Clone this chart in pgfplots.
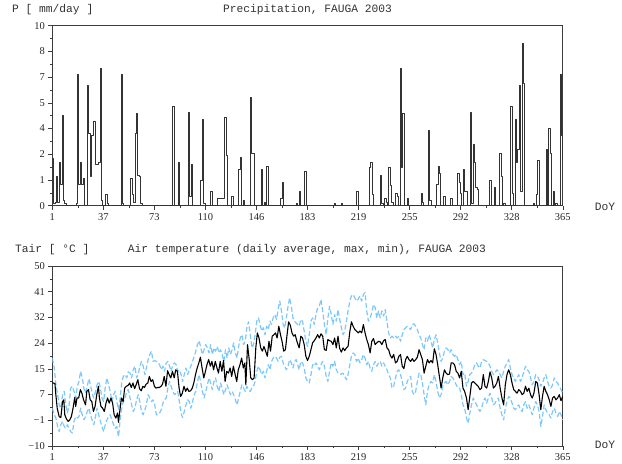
\documentclass[border=0pt]{standalone}
\usepackage{fontspec}
\setmainfont{Liberation Serif}
\newfontfamily\mono{Liberation Mono}
\usepackage{pgfplots}
\pgfplotsset{compat=1.18}

\definecolor{skyb}{RGB}{125,200,250}
\definecolor{frame}{RGB}{60,60,60}

\pgfplotsset{
  fauga/.style={
    scale only axis,
    width=510.5bp, height=180bp,
    anchor=south west,
    xmin=1, xmax=365,
    xtick={1,37.4,73.8,110.2,146.6,183,219.4,255.8,292.2,328.6,365},
    xticklabels={1,37,73,110,146,183,219,255,292,328,365},
    minor x tick num=1, minor y tick num=1,
    xtick pos=left, ytick pos=left,
    tick align=outside,
    major tick length=4bp, minor tick length=2.5bp,
    tick style={frame, line width=0.6pt},
    axis line style={frame, line width=0.8pt},
    ticklabel style={font=\fontsize{10.5}{12}\selectfont, text=black!85},
    every axis plot/.append style={line join=round},
  },
  tdash/.style={skyb, line width=1.2pt, dash pattern=on 5bp off 2.5bp},
}

\begin{document}
\begin{tikzpicture}[x=1bp,y=1bp]
\path[use as bounding box] (0,0) rectangle (622,464);

% precipitation
\begin{axis}[fauga, at={(52.3bp,258.3bp)},
  ymin=0, ymax=10,
  ytick={0,1.428571,2.857143,4.285714,5.714286,7.142857,8.571429,10},
  yticklabels={0,1,2,4,5,7,8,10}]
\addplot[const plot, black!80, line width=0.95pt] coordinates {
(1,2.6)(2,0.1)(3,0.2)(4,1.6)(5,0.2)(6,2.4)(7,1.2)(8,5.0)(9,0.3)(10,0.1)(11,0)
(18,0.1)(19,7.3)(20,1.2)(21,2.4)(22,1.2)(23,1.5)(24,0)
(26,6.7)(27,4.0)(28,1.6)(29,3.9)(30,4.7)(31,4.7)(32,2.3)(33,2.3)(34,2.4)(35,7.6)(36,0.3)(37,0)
(39,0.6)(40,0.1)(41,0)
(50,7.3)(51,0.1)(52,0)
(57,1.5)(58,0.6)(59,0.2)(60,4.0)(61,5.1)(62,1.7)(63,1.6)(64,0.1)(65,0)
(87,5.5)(88,0)
(91,2.4)(92,0)
(98,5.2)(99,0.5)(100,2.3)(101,0)
(107,1.4)(108,4.8)(109,0.1)(110,0)
(114,0.8)(115,0)
(119,0.4)(120,0.4)(121,0.4)(122,0.4)(123,0.4)(124,4.9)(125,2.8)(126,0)
(129,0.5)(130,0)
(134,2.0)(135,2.7)(136,0)(137,0.3)(138,0)
(142,6.0)(143,2.9)(144,2.9)(145,0)
(150,2.0)(151,0)(152,0.2)(153,0)(154,2.2)(155,0)
(164,0.4)(165,1.3)(166,0)
(175,0.1)(176,0)(177,0.8)(178,0)
(181,1.9)(182,0)
(202,0.1)(203,0)(207,0.1)(208,0)
(218,0.8)(219,0)
(227,2.1)(228,2.4)(229,0.6)(230,0)
(235,1.7)(236,0.1)(237,0)(238,0.4)(239,0.2)(240,0)(241,2.1)(242,1.1)(243,0.2)(244,0)
(246,0.7)(247,0.5)(248,0)(249,7.6)(250,2.1)(251,5.1)(252,0)
(254,0.4)(255,0)
(264,0.7)(265,0.2)(266,0)
(269,4.2)(270,0.3)(271,0)
(275,1.2)(276,2.2)(277,1.8)(278,0)
(280,0.5)(281,0)
(285,0.4)(286,0)
(290,1.8)(291,1.3)(292,0.7)(293,0)(294,2.0)(295,0.8)(296,0.8)(297,0)
(299,5.2)(300,0.1)(301,3.4)(302,2.4)(303,1.0)(304,0.9)(305,0)
(313,1.4)(314,0)(316,1.0)(317,0)
(320,2.9)(321,1.6)(322,0)(323,0.1)(324,0)
(328,5.5)(329,0.7)(330,0)(331,4.8)(332,2.4)(333,3.1)(334,6.7)(335,0.8)(336,9.0)(337,6.8)(338,0)
(344,0.1)(345,0)(346,0.6)(347,2.5)(348,0)
(353,3.1)(354,0)(355,4.3)(356,2.9)(357,0)(358,0.8)(359,0)(360,0.1)(361,0)
(363,7.3)(364,3.9)(365,2.5)
};
\end{axis}

% air temperature
\begin{axis}[fauga, at={(52.3bp,18bp)},
  ymin=-10, ymax=50,
  ytick={-10,-1.428571,7.142857,15.714286,24.285714,32.857143,41.428571,50},
  yticklabels={−10,−1,7,15,24,32,41,50}]
% max
\addplot[tdash] coordinates {
(1,19.3)(2.4,16.0)(3.6,10.4)(4.8,7.1)(5.9,3.7)(7.1,2.6)(8.3,7.1)(9.5,8.2)(10.6,3.7)(11.8,1.0)(13,3.7)(14.1,9.3)(15.3,9.9)(16.5,8.2)(17.7,6.0)(18.8,9.9)(20,11.5)(21.2,14.9)(22.4,12.7)(23.5,9.3)(24.7,7.6)(25.9,9.9)(27.1,12.4)(28.2,10.4)(29.4,7.6)(30.6,6.0)(31.8,8.2)(32.9,10.4)(34.1,11.5)(35.3,9.3)(36.4,6.0)(37.6,4.8)(38.8,9.9)(40,12.7)(41.1,10.4)(42.3,8.2)(43.5,4.8)(44.7,7.1)(45.8,8.2)(47,4.8)(48.2,2.1)(49.4,6.0)(50.5,11.5)(51.7,13.2)(52.9,13.8)(54.1,12.7)(55.2,14.7)(56.4,14.3)(57.6,12.7)(58.7,15.4)(59.9,16.6)(61.1,12.7)(62.3,13.8)(63.4,16.6)(64.6,18.2)(65.8,16.6)(67,13.8)(68.1,16.0)(69.3,18.8)(70.5,20.5)(71.7,21.6)(72.8,18.2)(74,18.5)(75.2,18.2)(76.4,17.7)(77.5,17.1)(78.7,15.4)(79.9,16.6)(81,14.9)(82.2,17.7)(83.4,18.2)(84.6,16.6)(85.7,14.9)(86.9,17.1)(88.1,17.7)(89.3,17.1)(90.4,14.9)(91.6,15.4)(92.8,13.8)(93.9,11.5)(95.1,13.8)(96.3,16.0)(97.5,13.8)(98.7,15.4)(99.8,16.6)(101,18.2)(102.2,19.9)(103.3,21.6)(104.5,23.8)(105.7,25.1)(106.9,22.7)(108,20.5)(109.2,22.1)(110.4,23.8)(111.6,22.7)(112.7,21.0)(113.9,23.8)(115.1,20.5)(116.3,22.7)(117.4,21.6)(118.6,23.2)(119.8,21.0)(120.9,22.1)(122.1,20.5)(123.3,18.2)(124.5,22.1)(125.6,19.3)(126.8,22.7)(128,20.5)(129.2,22.1)(130.3,24.4)(131.5,21.0)(132.7,19.3)(133.9,23.2)(135,26.0)(136.2,27.1)(137.4,23.8)(138.6,24.9)(139.7,29.4)(140.9,31.4)(142.1,27.1)(143.3,22.7)(144.4,23.8)(145.6,27.1)(146.8,31.6)(148,32.7)(149.1,30.5)(150.3,28.3)(151.5,29.4)(152.6,27.1)(153.8,29.9)(155,28.8)(156.2,31.6)(157.3,30.5)(158.5,32.7)(159.7,33.8)(160.9,32.2)(162,35.5)(163.2,38.3)(164.4,35.0)(165.6,30.5)(166.7,29.4)(167.9,32.7)(169.1,36.6)(170.2,39.4)(171.4,36.6)(172.6,32.7)(173.8,31.6)(174.9,31.0)
(177,29.9)(178.2,32.2)(179.4,31.6)(180.6,28.3)(181.8,24.9)(183,23.2)(184.2,27.1)(185.4,31.6)(186.6,32.7)(187.8,30.5)(189,33.8)(190.2,36.1)(191.4,36.6)(192.6,38.9)(193.8,35.0)(195,30.5)(196.3,27.1)(197.5,32.7)(198.7,36.6)(199.9,33.8)(201.1,30.5)(202.3,33.8)(203.5,31.6)(204.7,35.5)(205.9,32.2)(207.1,29.4)(208.3,27.1)(209.5,28.3)(210.7,31.6)(211.9,35.0)(213.1,38.3)(214.3,40.0)(215.5,40.5)(216.7,39.4)(217.9,38.3)(219.1,38.9)(220.3,40.0)(221.6,38.3)(222.8,40.5)(224,41.1)(225.2,35.0)(226.4,31.6)(227.6,32.7)(228.8,34.4)(230,37.2)(231.2,36.1)(232.4,32.7)(233.6,35.0)(234.8,32.7)(236,35.0)(237.2,33.3)(238.4,35.5)(239.6,31.6)(240.8,27.7)(242,26.0)(243.2,26.6)(244.4,26.0)(245.7,26.6)(246.9,26.0)(248.1,26.6)(249.3,24.9)(250.5,27.1)(251.7,28.8)(252.9,29.4)(254.1,29.9)(255.3,29.4)(256.5,28.8)(257.7,30.5)(258.9,30.7)(260.1,29.9)(261.3,28.8)(262.5,27.1)(263.7,26.0)(264.9,23.8)(266.1,22.1)(267.3,26.0)(268.5,24.9)(269.7,27.1)(271,24.9)(272.2,22.7)(273.4,25.5)(274.6,27.1)(275.8,24.4)(277,21.0)(278.2,18.2)(279.4,19.3)(280.6,21.6)(281.8,22.7)(283,22.1)(284.2,21.0)(285.4,22.1)(286.6,20.5)(287.8,19.9)(289,20.5)(290.2,18.8)(291.4,17.1)(292.6,18.2)(293.8,13.8)(295,14.3)(296.3,9.9)(297.5,11.5)(298.7,13.8)(299.9,14.3)(301.1,15.4)(302.3,17.1)(303.5,17.7)(304.7,16.6)(305.9,16.0)(307.1,18.2)(308.3,18.8)(309.5,18.5)(310.7,18.2)(311.9,17.7)(313.1,16.6)(314.3,14.9)(315.5,13.8)(316.7,14.3)(317.9,15.4)(319.1,14.9)(320.3,13.8)(321.6,12.7)(322.8,14.9)(324,16.6)(325.2,17.7)(326.4,18.8)(327.6,16.0)(328.8,13.8)(330,12.7)(331.2,11.5)(332.4,12.7)(333.6,13.8)(334.8,11.5)(336,12.7)(337.2,14.9)(338.4,16.6)(339.6,15.4)(340.8,14.9)(342,12.7)(343.2,10.4)(344.4,11.5)(345.7,13.8)(346.9,13.2)(348.1,12.1)(349.3,9.9)(350.5,11.0)(351.7,12.7)(352.9,13.8)(354.1,11.5)(355.3,9.9)(356.5,9.3)(357.7,10.4)(358.9,12.7)(360.1,11.5)(361.3,11.0)(362.5,9.9)(363.7,8.8)(364.9,7.6)
};
% min
\addplot[tdash] coordinates {
(1,2.6)(2.4,0.4)(3.6,-0.7)(4.8,-3.5)(5.9,-5.2)(7.1,-2.9)(8.3,-1.8)(9.5,-3.5)(10.6,-4.1)(11.8,-2.9)(13,-4.1)(14.1,-5.2)(15.3,-5.7)(16.5,-1.8)(17.7,-0.2)(18.8,-0.7)(20,-0.2)(21.2,2.6)(22.4,0.4)(23.5,-1.3)(24.7,-0.2)(25.9,1.5)(27.1,2.6)(28.2,0.4)(29.4,-1.3)(30.6,-2.9)(31.8,-0.2)(32.9,2.6)(34.1,0.4)(35.3,-1.8)(36.4,-3.5)(37.6,-5.2)(38.8,-2.9)(40,-1.3)(41.1,-0.2)(42.3,0.4)(43.5,-1.3)(44.7,-2.9)(45.8,-4.1)(47,-3.5)(48.2,-6.9)(49.4,-1.3)(50.5,2.6)(51.7,4.8)(52.9,6.0)(54.1,8.2)(55.2,8.8)(56.4,6.0)(57.6,3.7)(58.7,1.5)(59.9,2.6)(61.1,5.4)(62.3,7.1)(63.4,4.8)(64.6,1.5)(65.8,0.4)(67,2.1)(68.1,3.7)(69.3,7.1)(70.5,6.0)(71.7,4.8)(72.8,5.4)(74,3.7)(75.2,0.4)(76.4,0.4)(77.5,1.0)(78.7,2.1)(79.9,4.3)(81,5.4)(82.2,6.0)(83.4,9.3)(84.6,11.5)(85.7,9.9)(86.9,8.2)(88.1,7.1)(89.3,7.6)(90.4,8.2)(91.6,4.8)(92.8,1.0)(93.9,-0.5)(95.1,1.5)(96.3,3.7)(97.5,5.4)(98.7,4.8)(99.8,2.6)(101,4.8)(102.2,7.1)(103.3,8.2)(104.5,11.5)(105.7,13.8)(106.9,11.0)(108,8.2)(109.2,6.0)(110.4,8.2)(111.6,10.4)(112.7,12.7)(113.9,11.0)(115.1,8.8)(116.3,11.5)(117.4,12.7)(118.6,9.9)(119.8,8.2)(120.9,11.0)(122.1,9.3)(123.3,7.1)(124.5,8.8)(125.6,10.4)(126.8,8.8)(128,7.1)(129.2,8.2)(130.3,7.1)(131.5,5.4)(132.7,3.7)(133.9,6.0)(135,8.2)(136.2,10.4)(137.4,9.3)(138.6,8.2)(139.7,9.9)(140.9,8.8)(142.1,8.2)(143.3,9.3)(144.4,9.9)(145.6,11.5)(146.8,14.9)(148,16.6)(149.1,15.4)(150.3,13.8)(151.5,14.9)(152.6,12.7)(153.8,14.9)(155,17.1)(156.2,15.4)(157.3,18.2)(158.5,19.3)(159.7,19.9)(160.9,19.3)(162,18.2)(163.2,19.6)(164.4,19.9)(165.6,17.7)(166.7,16.6)(167.9,15.4)(169.1,16.6)(170.2,18.8)(171.4,17.7)(172.6,16.0)(173.8,18.2)(174.9,18.8)
(177,15.4)(178.2,18.2)(179.4,17.7)(180.6,16.0)(181.8,12.7)(183,11.5)(184.2,11.0)(185.4,13.8)(186.6,17.1)(187.8,16.6)(189,17.7)(190.2,16.6)(191.4,15.4)(192.6,17.1)(193.8,18.2)(195,16.6)(196.3,13.2)(197.5,11.5)(198.7,14.9)(199.9,17.7)(201.1,16.6)(202.3,18.2)(203.5,15.4)(204.7,14.3)(205.9,13.8)(207.1,14.0)(208.3,14.3)(209.5,13.2)(210.7,12.1)(211.9,13.8)(213.1,17.1)(214.3,19.9)(215.5,21.0)(216.7,20.5)(217.9,18.2)(219.1,19.3)(220.3,17.7)(221.6,18.8)(222.8,20.5)(224,19.3)(225.2,17.1)(226.4,18.2)(227.6,16.0)(228.8,14.9)(230,17.1)(231.2,18.2)(232.4,16.6)(233.6,17.7)(234.8,18.2)(236,16.6)(237.2,17.7)(238.4,16.6)(239.6,15.4)(240.8,13.8)(242,12.7)(243.2,9.3)(244.4,9.9)(245.7,12.7)(246.9,14.9)(248.1,15.4)(249.3,13.8)(250.5,11.5)(251.7,8.8)(252.9,9.3)(254.1,11.5)(255.3,12.7)(256.5,13.2)(257.7,8.2)(258.9,7.1)(260.1,8.2)(261.3,11.5)(262.5,14.3)(263.7,13.8)(264.9,11.0)(266.1,7.1)(267.3,3.7)(268.5,8.2)(269.7,10.4)(271,11.5)(272.2,11.0)(273.4,13.8)(274.6,11.5)(275.8,8.2)(277,6.0)(278.2,7.1)(279.4,9.9)(280.6,11.0)(281.8,11.5)(283,10.4)(284.2,11.5)(285.4,13.2)(286.6,12.7)(287.8,11.5)(289,10.4)(290.2,9.3)(291.4,9.3)(292.6,7.1)(293.8,3.7)(295,2.6)(296.3,-0.7)(297.5,-2.4)(298.7,1.0)(299.9,3.7)(301.1,6.0)(302.3,4.8)(303.5,3.7)(304.7,2.6)(305.9,1.5)(307.1,2.6)(308.3,4.8)(309.5,6.0)(310.7,4.3)(311.9,6.0)(313.1,7.6)(314.3,6.0)(315.5,3.7)(316.7,4.3)(317.9,5.4)(319.1,6.0)(320.3,2.6)(321.6,0.4)(322.8,-1.3)(324,2.6)(325.2,4.8)(326.4,6.5)(327.6,6.0)(328.8,4.3)(330,2.6)(331.2,2.1)(332.4,3.2)(333.6,3.7)(334.8,2.1)(336,1.5)(337.2,3.7)(338.4,4.8)(339.6,2.6)(340.8,3.7)(342,2.1)(343.2,0.4)(344.4,2.6)(345.7,4.8)(346.9,3.7)(348.1,1.5)(349.3,-3.5)(350.5,-0.2)(351.7,3.7)(352.9,2.1)(354.1,1.0)(355.3,0.4)(356.5,-0.7)(357.7,1.5)(358.9,2.6)(360.1,1.0)(361.3,-0.2)(362.5,1.5)(363.7,0.4)(364.9,-1.3)
};
% daily average
\addplot[black, line width=1.1pt] coordinates {
(1,11.0)(1.7,11.0)(2.9,10.8)(3.3,8.2)(4.5,2.6)(5.9,-0.2)(7.1,-0.5)(8.3,4.8)(9.2,5.4)(9.9,0.4)(11.1,-1.0)(12.3,-1.8)(13.4,-1.3)(14.6,-0.2)(15.8,2.6)(17,6.2)(17.7,3.2)(18.6,6.0)(19.8,6.0)(21,8.8)(22.1,7.6)(23.3,5.4)(24.7,3.7)(25.6,8.2)(26.8,8.8)(28,5.4)(29.2,4.8)(30.3,1.5)(31.5,3.2)(32.7,7.1)(33.9,9.9)(34.6,6.0)(35.7,3.2)(36.9,2.6)(38.1,1.5)(39.3,4.3)(40.4,6.0)(41.6,4.3)(42.8,6.0)(44,4.3)(45.1,0.4)(46.3,-0.7)(47.5,1.0)(48.2,-2.1)(49.1,1.5)(50.3,6.0)(51.5,4.8)(52.6,9.3)(53.8,9.9)(55,10.2)(56.2,11.0)(57.3,9.5)(58.5,11.0)(59.7,9.1)(60.9,10.6)(62,12.1)(63.2,9.1)(64.4,8.4)(65.6,9.9)(66.7,9.5)(67.9,10.6)(69.1,11.0)(70.2,13.2)(71.4,11.5)(72.6,12.1)(73.8,9.9)(74.9,9.3)(76.1,9.5)(77.3,9.5)(78.5,9.9)(79.6,10.6)(80.8,13.2)(82,9.9)(83.2,15.1)(84.3,13.8)(85.5,12.7)(86.7,14.9)(87.9,12.7)(89,15.4)(90.2,14.9)(91.4,9.3)(92.5,6.5)(93.7,7.6)(94.9,9.9)(96.1,8.2)(97.2,9.3)(98.4,8.2)(99.6,8.4)(100.8,9.3)(101.9,11.0)(103.1,13.8)(104.3,16.0)(105.5,17.7)(106.6,19.6)(107.8,16.0)(109,12.7)(110.2,14.9)(111.3,17.1)(112.5,18.8)(113.7,16.6)(114.8,18.2)(116,15.4)(117.2,18.2)(118.4,16.0)(119.5,14.3)(120.7,18.2)(121.9,14.9)(123.1,18.5)(124.2,11.5)(125.4,14.9)(126.6,14.3)(127.8,16.0)(128.9,13.2)(130.1,16.6)(131.3,14.0)(132.5,11.5)(133.6,15.4)(134.8,17.1)(136,19.3)(137.2,16.0)(138.3,17.7)(139,10.4)(140.2,23.8)(141.4,18.8)(142.5,12.7)(143.7,12.1)(144.9,12.7)(146.1,22.7)(147.2,27.7)(148.4,26.0)(149.6,22.7)(150.8,21.6)(151.9,23.2)(153.1,21.6)(154.3,19.9)(155.5,24.9)(156.6,21.6)(157.8,26.6)(159,27.1)(160.2,27.7)(161.3,26.0)(162.5,29.9)(163.7,27.1)(164.8,24.9)(166,21.6)(167.2,22.1)(168.4,27.1)(169.5,31.4)(170.7,30.3)(171.9,27.7)(173.1,26.6)(174.2,27.1)(175.4,24.9)
(177,22.7)(178.2,26.6)(179.4,26.0)(180.6,23.8)(181.8,19.9)(183,18.5)(184.2,19.9)(185.4,22.1)(186.6,24.4)(187.8,25.1)(189,26.0)(190.2,27.1)(191.4,26.0)(192.6,27.4)(193.8,26.6)(195,22.1)(196.3,21.9)(197.5,25.5)(198.7,25.1)(199.9,24.9)(201.1,23.8)(202.3,26.0)(203.5,22.7)(204.7,26.6)(205.9,22.5)(207.1,21.3)(208.3,22.7)(209.5,21.8)(210.7,22.7)(211.9,23.2)(213.1,28.0)(214.3,31.4)(215.5,29.9)(216.7,28.8)(217.9,28.3)(219.1,27.7)(220.3,28.3)(221.6,27.7)(222.8,30.5)(224,27.7)(225.2,25.5)(226.4,23.8)(227.6,21.0)(228.8,24.9)(230,25.8)(231.2,23.8)(232.4,24.4)(233.6,24.9)(234.8,24.7)(236,23.8)(237.2,25.1)(238.4,25.5)(239.6,22.7)(240.8,22.1)(242,20.2)(243.2,19.3)(244.4,20.5)(245.7,17.7)(246.9,18.2)(248.1,19.9)(249.3,20.5)(250.5,16.6)(251.7,15.8)(252.9,18.8)(254.1,19.9)(255.3,18.8)(256.5,18.2)(257.7,19.1)(258.9,18.2)(260.1,18.8)(261.3,19.6)(262.5,22.1)(263.7,20.5)(264.9,18.8)(266.1,14.3)(267.3,16.6)(268.5,18.8)(269.7,17.7)(271,18.5)(272.2,17.7)(273.4,22.4)(274.6,20.5)(275.8,17.1)(277,13.2)(278.2,9.3)(279.4,12.7)(280.6,15.4)(281.8,14.3)(283,13.8)(284.2,14.0)(285.4,17.7)(286.6,17.7)(287.8,17.1)(289,14.9)(290.2,14.3)(291.4,12.7)(292.6,14.9)(293.8,9.3)(295,8.2)(296.3,6.0)(297.5,2.1)(298.7,6.5)(299.9,11.0)(301.1,11.5)(302.3,11.0)(303.5,10.4)(304.7,9.9)(305.9,8.8)(307.1,9.3)(308.3,13.8)(309.5,9.9)(310.7,9.3)(311.9,11.5)(313.1,14.7)(314.3,12.7)(315.5,9.3)(316.7,9.9)(317.9,11.0)(319.1,13.2)(320.3,9.3)(321.6,6.0)(322.8,3.7)(324,10.4)(325.2,13.8)(326.4,15.4)(327.6,13.8)(328.8,11.0)(330,8.8)(331.2,8.2)(332.4,7.6)(333.6,8.8)(334.8,8.2)(336,7.1)(337.2,7.6)(338.4,9.9)(339.6,8.2)(340.8,9.3)(342,7.1)(343.2,6.0)(344.4,7.6)(345.7,11.5)(346.9,11.0)(348.1,7.1)(349.3,2.1)(350.5,6.5)(351.7,9.9)(352.9,8.2)(354.1,7.1)(355.3,5.4)(356.5,3.2)(357.7,6.0)(358.9,6.5)(360.1,5.4)(361.3,6.0)(362.5,7.1)(363.7,5.1)(364.9,6.5)
};
\end{axis}

\begin{scope}[every node/.style={font=\mono\fontsize{11.3}{13}\selectfont, text=black!80, inner sep=0pt}]
\node[anchor=west] at (12,454) {P [ mm/day ]};
\node at (307.5,454) {Precipitation, FAUGA 2003};
\node at (605,257) {DoY};
\node[anchor=west] at (15,214) {Tair [ °C ]};
\node at (307,214) {Air temperature (daily average, max, min), FAUGA 2003};
\node at (605,19) {DoY};
\end{scope}
\end{tikzpicture}
\end{document}
